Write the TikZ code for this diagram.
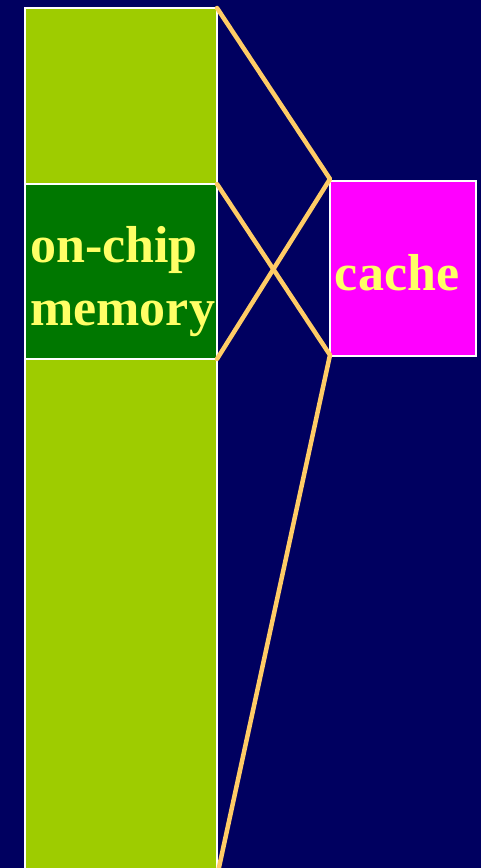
\documentclass[tikz,border=0pt]{standalone}
\usepackage{fontspec}
\setmainfont{Liberation Serif}
\definecolor{navy}{RGB}{0,0,96}
\definecolor{lime}{RGB}{158,204,0}
\definecolor{darkgrn}{RGB}{0,119,0}
\definecolor{magent}{RGB}{255,0,255}
\definecolor{txtyellow}{RGB}{255,255,102}
\definecolor{wire}{RGB}{255,204,102}
\begin{document}
\begin{tikzpicture}[x=1pt,y=-1pt,
  block/.style={draw=white,line width=1.8pt,inner sep=0pt,outer sep=0pt,anchor=north west},
  label/.style={text=txtyellow,inner sep=0pt,font=\bfseries\fontsize{52}{60}\selectfont},
  mapline/.style={draw=wire,line width=4.5pt,line cap=round,line join=round}]
  \fill[navy] (0,0) rectangle (481,868);
  \useasboundingbox (0,0) rectangle (481,868);
  % main memory column
  \node[block,fill=lime,minimum width=192pt,minimum height=880pt] (mem) at (25,8) {};
  % on-chip memory region
  \node[block,fill=darkgrn,minimum width=192pt,minimum height=175pt] (onchip) at (25,184) {};
  \node[label,anchor=base west] (t1) at (30,262) {on-chip};
  \node[label,anchor=base west] (t2) at (30,325) {memory};
  % cache
  \node[block,fill=magent,minimum width=146pt,minimum height=175pt] (cache) at (330,181) {};
  \node[label,anchor=base] (t3) at (397,290) {cache};
  % mapping lines
  \coordinate (ctop) at ([yshift=2pt]cache.north west);
  \coordinate (cbot) at ([yshift=1pt]cache.south west);
  \coordinate (mbot) at (218,872);
  \draw[mapline] (mem.north east) -- (ctop) -- (onchip.south east);
  \draw[mapline] (onchip.north east) -- (cbot) -- (mbot);
\end{tikzpicture}
\end{document}
